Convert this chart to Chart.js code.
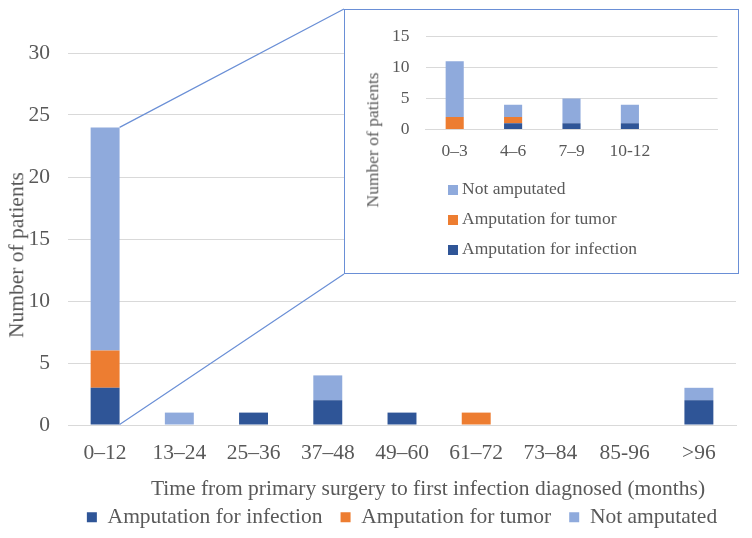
<!DOCTYPE html>
<html>
<head>
<meta charset="utf-8">
<script src="https://cdn.jsdelivr.net/npm/chart.js@4.4.1/dist/chart.umd.min.js"></script>
<style>
  html, body { margin: 0; padding: 0; background: #fff; }
  #wrap { position: relative; width: 752px; height: 538px; }
  #main { position: absolute; left: 0; top: 0; }
  #inset {
    position: absolute; left: 344px; top: 9px; width: 395px; height: 265px;
    box-sizing: border-box; border: 1.5px solid #6a8fd6; background: #fff;
  }
  #insetChart { position: absolute; left: 0; top: 0; }
  .ileg {
    position: absolute; left: 103px; height: 20px; line-height: 20px;
    font: 17.5px 'Liberation Serif', serif; color: #595959; white-space: nowrap;
  }
  .ileg span {
    display: inline-block; width: 10px; height: 10px; margin-right: 4px;
    vertical-align: -1px;
  }
  .title {
    position: absolute; white-space: nowrap; color: #595959;
    font-family: 'Liberation Serif', serif; line-height: 1;
  }
  #insetTitle { left: 373px; top: 140px; font-size: 17.5px; transform: translate(-50%, -50%) rotate(-90deg); }
  #yTitle { left: 17px; top: 255px; font-size: 21.5px; transform: translate(-50%, -50%) rotate(-90deg); }
  #xTitle { left: 428px; top: 489px; font-size: 21.5px; transform: translate(-50%, -50%); }
</style>
</head>
<body>
<div id="wrap">
  <canvas id="main" width="752" height="538"></canvas>
  <div id="inset">
    <canvas id="insetChart" width="392" height="262"></canvas>
  </div>
  <div class="title" id="insetTitle">Number of patients</div>
  <div class="title" id="yTitle">Number of patients</div>
  <div class="title" id="xTitle">Time from primary surgery to first infection diagnosed (months)</div>
</div>

<script>
'use strict'

// main chart: months since primary surgery
const categories = ['0–12', '13–24', '25–36', '37–48', '49–60', '61–72', '73–84', '85-96', '>96']
const infection = [3, 0, 1, 2, 1, 0, 0, 0, 2]
const tumor = [3, 0, 0, 0, 0, 1, 0, 0, 0]
const notAmputated = [18, 1, 0, 2, 0, 0, 0, 0, 1]
const yTicksMain = { min: 0, max: 30, step: 5 }

// inset: breakdown of the first year
const insetCategories = ['0–3', '4–6', '7–9', '10-12', '']
const insetInfection = [0, 1, 1, 1]
const insetTumor = [2, 1, 0, 0]
const insetNotAmputated = [9, 2, 4, 3]
const yTicksInset = { min: 0, max: 15, step: 5 }

const seriesNames = ['Amputation for infection', 'Amputation for tumor', 'Not amputated']
const colors = ['#2f5597', '#ed7d31', '#8faadc']
const lineBlue = '#6a8fd6'
const textGray = '#595959'
const gridGray = '#d9d9d9'

Chart.defaults.font.family = "'Liberation Serif', 'Times New Roman', serif"
Chart.defaults.color = textGray

const connector = {
  id: 'connector',
  afterDraw: chart => {
    const top = chart.getDatasetMeta(2).data[0]
    const bottom = chart.getDatasetMeta(0).data[0]
    const box = document.getElementById('inset')
    const x0 = top.x + top.width / 2
    const ctx = chart.ctx

    ctx.save()
    ctx.strokeStyle = lineBlue
    ctx.lineWidth = 1.2
    ctx.beginPath()
    ctx.moveTo(x0, top.y)
    ctx.lineTo(box.offsetLeft, box.offsetTop)
    ctx.moveTo(x0, bottom.base)
    ctx.lineTo(box.offsetLeft, box.offsetTop + box.offsetHeight)
    ctx.stroke()
    ctx.restore()
  }
}

function datasets(values, barPercentage) {
  return values.map((data, i) => ({
    label: seriesNames[i],
    data,
    backgroundColor: colors[i],
    borderWidth: 0,
    barPercentage,
    categoryPercentage: 1
  }))
}

new Chart(document.getElementById('main'), {
  type: 'bar',
  data: {
    labels: categories,
    datasets: datasets([infection, tumor, notAmputated], 0.39)
  },
  options: {
    responsive: false,
    animation: false,
    layout: { padding: { top: 53, right: 16, bottom: 0, left: 0 } },
    scales: {
      x: {
        stacked: true,
        grid: { display: false, drawTicks: false },
        border: { color: gridGray },
        ticks: { padding: 15, font: { size: 21.5 } },
        // room for the axis title, which sits in the page as text
        afterFit: s => { s.height = 63.5 }
      },
      y: {
        stacked: true,
        min: yTicksMain.min,
        max: yTicksMain.max,
        ticks: { stepSize: yTicksMain.step, padding: 18, font: { size: 21.5 } },
        grid: { color: gridGray, drawTicks: false },
        border: { display: false },
        afterFit: s => { s.width = 68 }
      }
    },
    plugins: {
      legend: {
        position: 'bottom',
        fullSize: false,
        labels: { boxWidth: 10, boxHeight: 10, padding: 18, font: { size: 21.5 }, color: textGray }
      },
      tooltip: { enabled: false }
    }
  },
  plugins: [connector]
})

new Chart(document.getElementById('insetChart'), {
  type: 'bar',
  data: {
    labels: insetCategories,
    datasets: datasets([insetInfection, insetTumor, insetNotAmputated], 0.31)
  },
  options: {
    responsive: false,
    animation: false,
    layout: { padding: { top: 17.5, right: 19.5, bottom: 0, left: 0 } },
    scales: {
      x: {
        stacked: true,
        grid: { display: false, drawTicks: false },
        border: { color: gridGray },
        ticks: { padding: 11, font: { size: 17.5 } },
        afterFit: s => { s.height = 142.5 }
      },
      y: {
        stacked: true,
        min: yTicksInset.min,
        max: yTicksInset.max,
        ticks: { stepSize: yTicksInset.step, padding: 16, font: { size: 17.5 } },
        grid: { color: gridGray, drawTicks: false },
        border: { display: false },
        afterFit: s => { s.width = 80.5 }
      }
    },
    plugins: {
      legend: { display: false },
      tooltip: { enabled: false }
    }
  }
})

// inset legend, stacked vertically, top series first
const inset = document.getElementById('inset')
seriesNames.slice().reverse().forEach((name, i) => {
  const row = document.createElement('div')
  row.className = 'ileg'
  row.style.top = (167.5 + i * 30) + 'px'
  const box = document.createElement('span')
  box.style.background = colors[seriesNames.length - 1 - i]
  row.appendChild(box)
  row.appendChild(document.createTextNode(name))
  inset.appendChild(row)
})
</script>
</body>
</html>
